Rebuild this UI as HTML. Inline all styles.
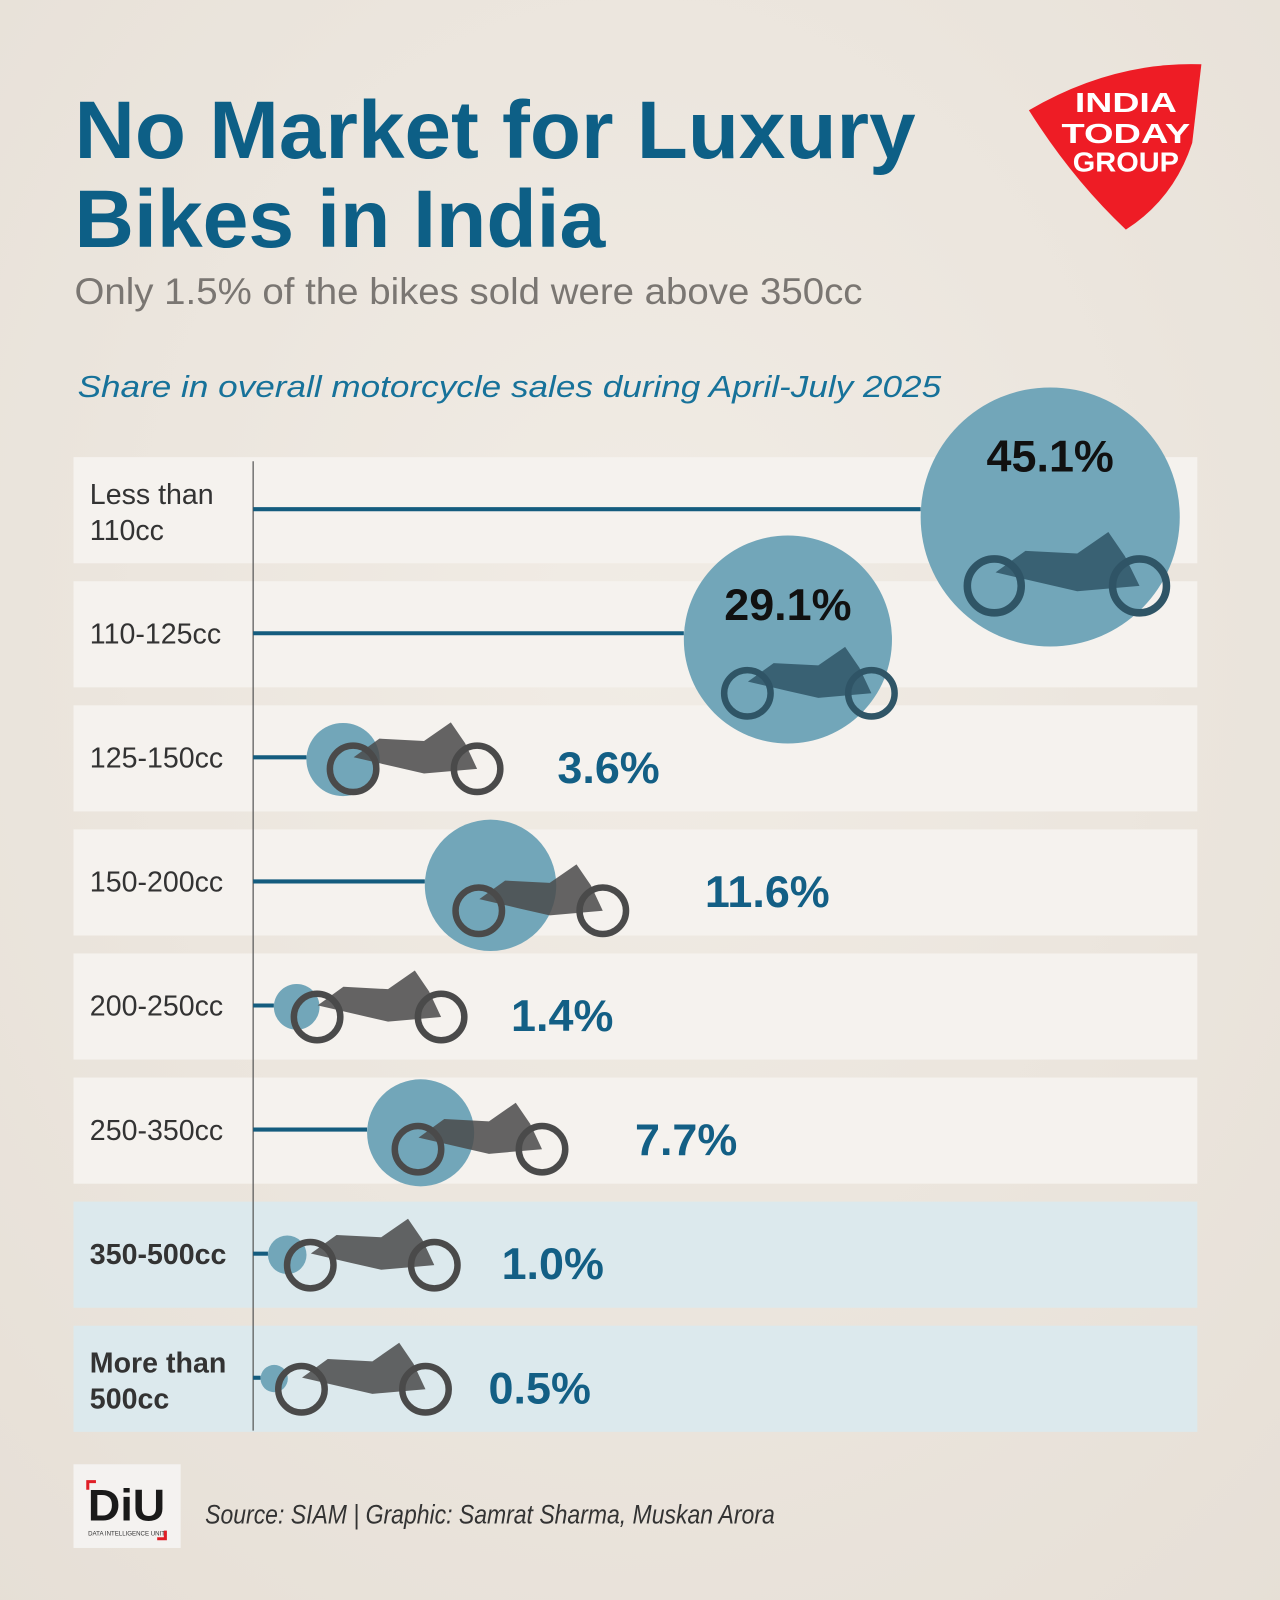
<!DOCTYPE html>
<html><head><meta charset="utf-8"><style>
html,body{margin:0;padding:0;background:#ece6de;}
svg{display:block;}
text{font-family:"Liberation Sans",sans-serif;}
</style></head><body>
<svg id="chart" width="1280" height="1600" viewBox="0 0 1254 1568" preserveAspectRatio="none" xmlns="http://www.w3.org/2000/svg">
<defs>
<radialGradient id="bg" cx="0.5" cy="0.4" r="0.8"><stop offset="0" stop-color="#f1ece5"/><stop offset="1" stop-color="#e6dfd6"/></radialGradient>
</defs>
<rect x="0" y="0" width="1254" height="1568" fill="url(#bg)"/>
<text x="73" y="155" font-size="80" font-weight="bold" fill="#0d5f86" textLength="824" lengthAdjust="spacingAndGlyphs">No Market for Luxury</text>
<text x="73" y="242" font-size="80" font-weight="bold" fill="#0d5f86" textLength="520" lengthAdjust="spacingAndGlyphs">Bikes in India</text>
<text x="73" y="298" font-size="36" fill="#7a7672" textLength="772" lengthAdjust="spacingAndGlyphs">Only 1.5% of the bikes sold were above 350cc</text>
<text x="76" y="389" font-size="30" font-style="italic" fill="#17729a" textLength="846" lengthAdjust="spacingAndGlyphs">Share in overall motorcycle sales during April-July 2025</text>
<g>
<path d="M1008,108 Q1090,60 1177,63 L1168,140 Q1150,195 1103,225 Q1050,175 1008,108 Z" fill="#ee1c25"/>
<text x="1103" y="110" font-size="27" font-weight="bold" fill="#fff" text-anchor="middle" textLength="100" lengthAdjust="spacingAndGlyphs">INDIA</text>
<text x="1103" y="140" font-size="27" font-weight="bold" fill="#fff" text-anchor="middle" textLength="126" lengthAdjust="spacingAndGlyphs">TODAY</text>
<text x="1103" y="168" font-size="27" font-weight="bold" fill="#fff" text-anchor="middle" textLength="104" lengthAdjust="spacingAndGlyphs">GROUP</text>
</g>
<g id="plot"></g>
<g>
<rect x="72" y="1435" width="105" height="82" fill="#f4f2f0"/>
<text x="124" y="1490" font-size="44" font-weight="bold" fill="#1a1a1a" text-anchor="middle">DiU</text>
<text x="124" y="1505" font-size="6" fill="#333" text-anchor="middle">DATA INTELLIGENCE UNIT</text>
<path d="M86,1460 v-8 h8 M162,1500 v8 h-8" stroke="#e01e26" stroke-width="3" fill="none"/>
</g>
<text x="201" y="1493" font-size="26" font-style="italic" fill="#333" textLength="558" lengthAdjust="spacingAndGlyphs">Source: SIAM | Graphic: Samrat Sharma, Muskan Arora</text>
</svg>
<script>
const categories = ["Less than|110cc","110-125cc","125-150cc","150-200cc","200-250cc","250-350cc","350-500cc","More than|500cc"];
const shares = [45.1,29.1,3.6,11.6,1.4,7.7,1.0,0.5];
const valueLabels = ["45.1%","29.1%","3.6%","11.6%","1.4%","7.7%","1.0%","0.5%"];
const luxury = [false,false,false,false,false,false,true,true];

const NS="http://www.w3.org/2000/svg";
const plot=document.getElementById('plot');
const axisX=248, rowTop0=448, rowPitch=121.6, rowH=104;
function xScale(v){return axisX+14.5*v;}
function rScale(v){return 18.9*Math.sqrt(v);}
function mk(tag,attrs){const e=document.createElementNS(NS,tag);for(const k in attrs)e.setAttribute(k,attrs[k]);return e;}

categories.forEach((c,i)=>{
  const top=rowTop0+i*rowPitch;
  const band=mk('rect',{x:72,y:top,width:1101,height:rowH,fill:luxury[i]?'#dce9ed':'#f5f2ee'});
  
  
  plot.appendChild(band);
});
const axis=mk('line',{x1:axisX,y1:452,x2:axisX,y2:1402,stroke:'#555',"stroke-width":1.2});


plot.appendChild(axis);

function bike(g,x,bottom,w,col){
  const wr=w*0.13;
  const sw=wr*0.28;
  const b1=mk('circle',{cx:x+wr+4,cy:bottom-wr,r:wr,fill:'none',stroke:col,"stroke-width":sw});
  const b2=mk('circle',{cx:x+w-wr-4,cy:bottom-wr,r:wr,fill:'none',stroke:col,"stroke-width":sw});
  const body=mk('path',{d:`M${x+wr*1.2},${bottom-wr*1.5} L${x+w*0.3},${bottom-wr*2.3} L${x+w*0.55},${bottom-wr*2.2} L${x+w*0.7},${bottom-wr*3.0} L${x+w*0.78},${bottom-wr*2.1} L${x+w-wr-4},${bottom-wr} L${x+w*0.55},${bottom-wr*0.8} L${x+w*0.38},${bottom-wr*1.1} Z`,fill:col,opacity:0.85});
  g.appendChild(b1);g.appendChild(b2);g.appendChild(body);
}

shares.forEach((v,i)=>{
  const top=rowTop0+i*rowPitch, ly=top+51;
  const g=mk('g',{});
  
  
  const parts=categories[i].split('|');
  const lab=mk('text',{x:88,y:parts.length>1?ly-5:ly+10,"font-size":28,fill:'#333',"font-weight":luxury[i]?'bold':'normal'});
  
  
  parts.forEach((p,j)=>{const t=mk('tspan',{x:88,dy:j?35:0});t.textContent=p;lab.appendChild(t);});
  g.appendChild(lab);
  const r=rScale(v), left=xScale(v), cx=left+r, cy=ly+r*0.06;
  const ln=mk('line',{x1:axisX,y1:ly,x2:left,y2:ly,stroke:'#145c7e',"stroke-width":4});
  
  
  g.appendChild(ln);
  const circ=mk('circle',{cx:cx,cy:cy,r:r,fill:'#72a6b9'});
  
  
  g.appendChild(circ);
  const bw=Math.max(175,r*1.6);
  bike(g,cx+10-r*0.75,ly+Math.max(34,r*0.8),bw,r>90?'#2f5566':'#4a4a4a');
  const vt=mk('text',{"font-size":44,"font-weight":'bold'});
  
  
  if(r>90){vt.setAttribute('x',cx);vt.setAttribute('y',ly-37+(127-r)*0.95);vt.setAttribute('text-anchor','middle');vt.setAttribute('fill','#111');}
  else{vt.setAttribute('x',cx+210);vt.setAttribute('y',ly+25);vt.setAttribute('fill','#135f85');}
  vt.textContent=valueLabels[i];
  g.appendChild(vt);
  plot.appendChild(g);
});
</script>
</body></html>
